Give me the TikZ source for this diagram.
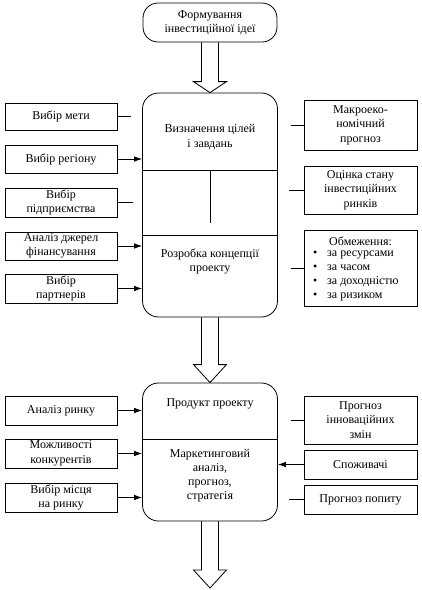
\documentclass[tikz,border=0pt]{standalone}
\usepackage{fontspec}
\setmainfont{Liberation Serif}
\usetikzlibrary{calc,arrows.meta}
\begin{document}
\begin{tikzpicture}[x=1pt,y=-1pt,
  every node/.style={font=\fontsize{12}{14.5}\selectfont},
  box/.style={draw,line width=0.8pt,rectangle,inner sep=0pt,align=center},
  lbox/.style={box,minimum width=112pt},
  rbox/.style={box,minimum width=113pt},
  cbox/.style={draw,line width=0.8pt,rectangle,rounded corners=16pt,minimum width=135pt,inner sep=0pt},
  txt/.style={inner sep=0pt,align=center},
  conn/.style={line width=0.8pt},
  arr/.style={line width=0.8pt,-{Latex[length=8pt,width=5.5pt]}},
  blockarrow/.style={line width=0.8pt,line join=miter}
]
\useasboundingbox (0,0) rectangle (422,590);

% top node
\node[draw,line width=0.8pt,rounded corners=15pt,minimum width=134pt,minimum height=39pt,inner sep=0pt,align=center] (top) at (210,22.5) {Формування\\інвестиційної ідеї};

% central boxes
\node[cbox,minimum height=224pt] (c1) at (210,205) {};
\node[cbox,minimum height=138pt] (c2) at (210,452) {};

% dividers in c1
\coordinate (d1) at (210,170);
\coordinate (d2) at (210,235);
\coordinate (d3) at (210,223);
\draw[conn] (d1 -| c1.west) -- (d1 -| c1.east);
\draw[conn] (d2 -| c1.west) -- (d2 -| c1.east);
\draw[conn] (d1) -- (d3);
% divider in c2
\coordinate (d4) at (210,439);
\draw[conn] (d4 -| c2.west) -- (d4 -| c2.east);

% texts in central boxes
\node[txt] (t1) at (210,137) {Визначення цілей\\і завдань};
\node[txt] (t2) at (210,261.5) {Розробка концепції\\проекту};
\node[txt] (t3) at (210,404) {Продукт проекту};
\node[txt,font=\fontsize{12}{14}\selectfont] (t4) at (210,476) {Маркетинговий\\аналіз,\\прогноз,\\стратегія};

% left boxes
\node[lbox,minimum height=27pt] (lb1) at (61,116.5) {Вибір мети};
\node[lbox,minimum height=28pt] (lb2) at (61,159) {Вибір регіону};
\node[lbox,minimum height=29pt] (lb3) at (61,202.5) {Вибір\\підприємства};
\node[lbox,minimum height=28pt] (lb4) at (61,246) {Аналіз джерел\\фінансування};
\node[lbox,minimum height=29pt] (lb5) at (61,288.5) {Вибір\\партнерів};
\node[lbox,minimum height=29pt] (lb6) at (61,410.5) {Аналіз ринку};
\node[lbox,minimum height=29pt] (lb7) at (61,453.5) {Можливості\\конкурентів};
\node[lbox,minimum height=29pt] (lb8) at (61,497.5) {Вибір місця\\на ринку};

% right boxes
\node[rbox,minimum height=50pt] (rb1) at (360.5,125) {Макроеко-\\номічний\\прогноз};
\node[rbox,minimum height=48pt] (rb2) at (360.5,190) {Оцінка стану\\інвестиційних\\ринків};
\node[rbox,minimum height=76pt] (rb3) at (360.5,268) {};
\node[rbox,minimum height=48pt] (rb4) at (360.5,420) {Прогноз\\інноваційних\\змін};
\node[rbox,minimum height=29pt] (rb5) at (360.5,464.5) {Споживачі};
\node[rbox,minimum height=29pt] (rb6) at (360.5,499.5) {Прогноз попиту};

% content of rb3
\node[txt] (oh) at (360.5,241) {Обмеження:};
\node[txt,anchor=west,font=\fontsize{12}{14}\selectfont,align=left] (ol) at (313,276) {%
\makebox[14pt][l]{•}за ресурсами\\
\makebox[14pt][l]{•}за часом\\
\makebox[14pt][l]{•}за доходністю\\
\makebox[14pt][l]{•}за ризиком};

% connectors left
\draw[conn] (lb1.east) -- ++(14,0);
\draw[arr] (lb2.east) -- (lb2.east -| c1.west);
\draw[conn] (lb3.east) -- ++(16,0);
\draw[arr] (lb4.east) -- (lb4.east -| c1.west);
\draw[arr] (lb5.east) -- (lb5.east -| c1.west);
\draw[arr] (lb6.east) -- (lb6.east -| c2.west);
\draw[arr] (lb7.east) -- (lb7.east -| c2.west);
\draw[arr] (lb8.east) -- (lb8.east -| c2.west);

% connectors right
\draw[conn] (rb1.west) -- ++(-13,0);
\draw[conn] (rb2.west) -- ++(-15,0);
\draw[conn] (rb3.west) -- ++(-13,0);
\draw[conn] (rb4.west) -- ++(-13,0);
\draw[arr] (rb5.west) -- (rb5.west -| c2.east);
\draw[conn] (rb6.west) -- ++(-15,0);

% block arrows
\draw[blockarrow] ($(top.south)+(-8.5,0)$) -- ($(c1.north)+(-8.5,-11)$) -- ($(c1.north)+(-16.5,-11)$) -- (c1.north) -- ($(c1.north)+(16.5,-11)$) -- ($(c1.north)+(8.5,-11)$) -- ($(top.south)+(8.5,0)$);
\draw[blockarrow] ($(c1.south)+(-8.5,0)$) -- ($(c2.north)+(-8.5,-18)$) -- ($(c2.north)+(-16.5,-18)$) -- (c2.north) -- ($(c2.north)+(16.5,-18)$) -- ($(c2.north)+(8.5,-18)$) -- ($(c1.south)+(8.5,0)$);
\coordinate (endp) at (210,588);
\draw[blockarrow] ($(c2.south)+(-8.5,0)$) -- ($(endp)+(-8.5,-18)$) -- ($(endp)+(-16.5,-18)$) -- (endp) -- ($(endp)+(16.5,-18)$) -- ($(endp)+(8.5,-18)$) -- ($(c2.south)+(8.5,0)$);
\end{tikzpicture}
\end{document}
